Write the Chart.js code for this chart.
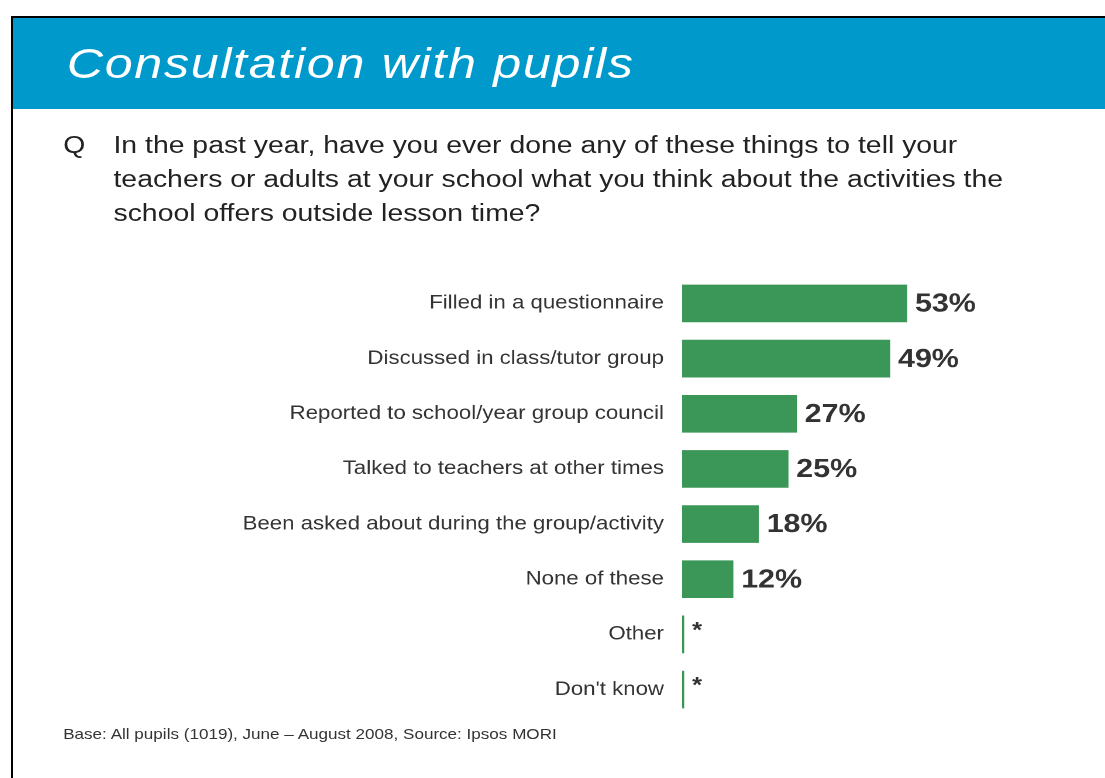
<!DOCTYPE html>
<html>
<head>
<meta charset="utf-8">
<script src="https://cdn.jsdelivr.net/npm/chart.js@4"></script>
<style>
  body { margin: 0; background: #fff; font-family: "Liberation Sans", Arial, sans-serif; }
  #page { position: relative; width: 1105px; height: 778px; overflow: hidden; }
  #frame { position: absolute; left: 11px; top: 16px; width: 1200px; height: 900px; border-left: 2px solid #000; border-top: 2px solid #000; }
  #header { position: absolute; left: 13px; top: 18px; width: 1092px; height: 91px; background: #0099cc; }
  /* the slide is stretched sideways, so the content is laid out narrower and widened */
  #stretch { position: absolute; left: 0; top: 0; width: 944px; height: 778px; transform: scaleX(1.17); transform-origin: 0 0; }
  #title { position: absolute; left: 57px; top: 39px; color: #fff; font-style: italic; font-size: 43px; letter-spacing: 1.4px; white-space: nowrap; }
  #q { position: absolute; left: 54px; top: 128px; font-size: 24.25px; color: #222; line-height: 34px; }
  #qtext { position: absolute; left: 97px; top: 128px; width: 860px; font-size: 24.25px; color: #222; line-height: 34px; white-space: nowrap; }
  #foot { position: absolute; left: 54px; top: 726px; font-size: 14.6px; color: #333; white-space: nowrap; }
  #myChart { position: absolute; left: 0; top: 257px; }
</style>
</head>
<body>
<div id="page">
  <div id="frame"></div>
  <div id="header"></div>
  <div id="stretch">
    <div id="title">Consultation with pupils</div>
    <div id="q">Q</div>
    <div id="qtext">In the past year, have you ever done any of these things to tell your<br>teachers or adults at your school what you think about the activities the<br>school offers outside lesson time?</div>
    <canvas id="myChart" width="944" height="479" style="width:944px;height:479px"></canvas>
    <div id="foot">Base: All pupils (1019), June – August 2008, Source: Ipsos MORI</div>
  </div>
</div>
<script>
let categories = ['Filled in a questionnaire', 'Discussed in class/tutor group', 'Reported to school/year group council',
  'Talked to teachers at other times', 'Been asked about during the group/activity', 'None of these', 'Other', "Don't know"]
let values = [53, 49, 27, 25, 18, 12, 0.4, 0.4]
let valueLabels = ['53%', '49%', '27%', '25%', '18%', '12%', '*', '*']

const valueLabelPlugin = {
    id: 'valueLabels',
    afterDatasetsDraw(chart) {
        let ctx = chart.ctx
        let meta = chart.getDatasetMeta(0)
        ctx.save()
        ctx.fillStyle = '#333'
        ctx.textBaseline = 'middle'
        meta.data.forEach((bar, i) => {
            let txt = valueLabels[i]
            if (txt === '*') {
                ctx.font = 'bold 22px "Liberation Sans", Arial'
                ctx.fillText(txt, bar.x + 7, bar.y - 3)
            } else {
                ctx.font = 'bold 26px "Liberation Sans", Arial'
                ctx.fillText(txt, bar.x + 7, bar.y + 1)
            }
        })
        ctx.restore()
    }
}

let chartContext = document.getElementById('myChart').getContext('2d');
const myChart = new Chart(chartContext, {
    type: 'bar',
    data: {
        labels: categories,
        datasets: [{
            data: values,
            backgroundColor: '#3b9757',
            barThickness: 37
        }]
    },
    options: {
        indexAxis: 'y',
        responsive: false,
        devicePixelRatio: 2,
        animation: false,
        layout: { padding: { left: 0, right: 35, top: 0, bottom: 0 } },
        plugins: { legend: { display: false }, tooltip: { enabled: false } },
        scales: {
            x: { display: false, min: 0, max: 90 },
            y: {
                grid: { display: false },
                border: { display: false },
                ticks: {
                    color: '#333',
                    padding: 7.5,
                    font: { family: '"Liberation Sans", Arial', size: 19 }
                },
                afterFit(scale) { scale.width = 583 }
            }
        }
    },
    plugins: [valueLabelPlugin]
})
</script>
</body>
</html>
